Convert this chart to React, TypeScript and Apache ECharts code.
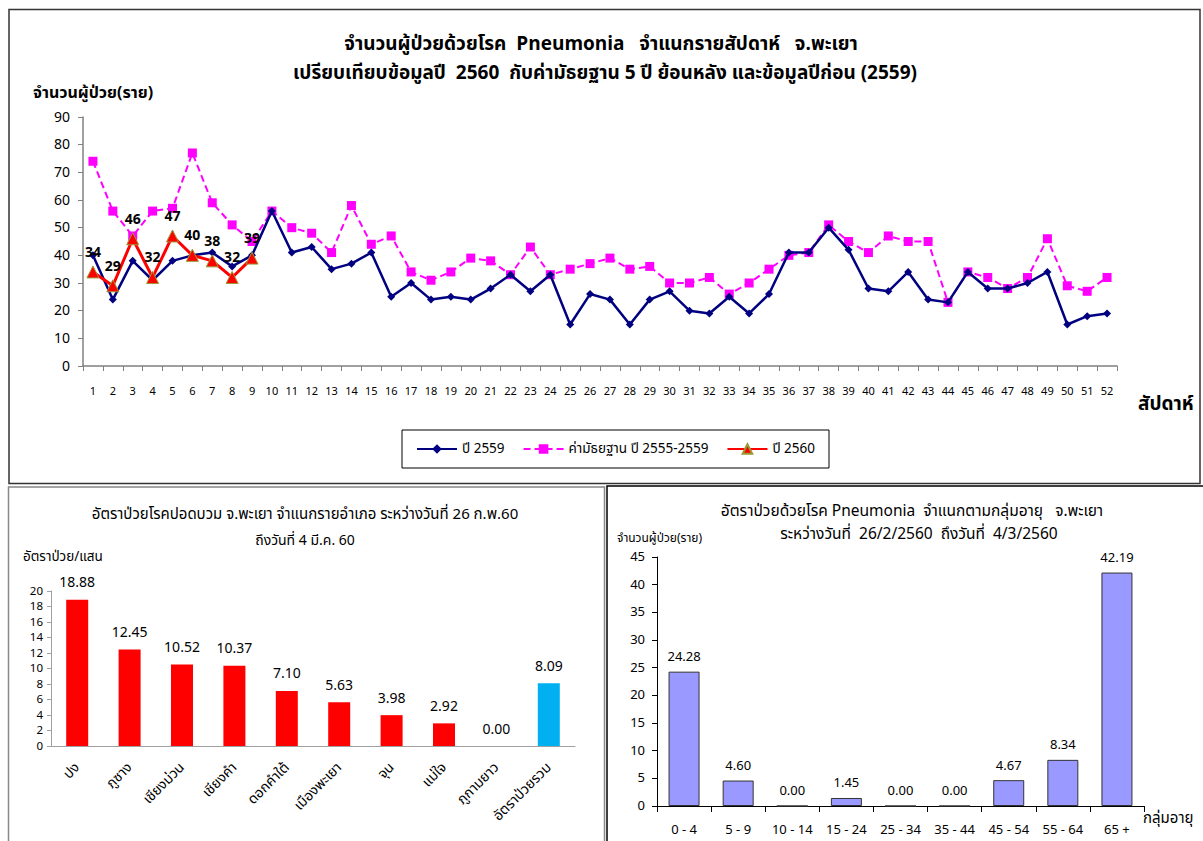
import React, { useEffect, useRef } from "react";
import * as echarts from "echarts";

const weeks = Array.from({ length: 52 }, (_, i) => String(i + 1));
const y2559 = [40, 24, 38, 31, 38, 40, 41, 36, 40, 56, 41, 43, 35, 37, 41, 25, 30, 24, 25, 24, 28, 33, 27, 33, 15, 26, 24, 15, 24, 27, 20, 19, 25, 19, 26, 41, 41, 50, 42, 28, 27, 34, 24, 23, 34, 28, 28, 30, 34, 15, 18, 19];
const median = [74, 56, 47, 56, 57, 77, 59, 51, 45, 56, 50, 48, 41, 58, 44, 47, 34, 31, 34, 39, 38, 33, 43, 33, 35, 37, 39, 35, 36, 30, 30, 32, 26, 30, 35, 40, 41, 51, 45, 41, 47, 45, 45, 23, 34, 32, 28, 32, 46, 29, 27, 32];
const y2560 = [34, 29, 46, 32, 47, 40, 38, 32, 39];

const districts = ["ปง", "ภูซาง", "เชียงม่วน", "เชียงคำ", "ดอกคำใต้", "เมืองพะเยา", "จุน", "แม่ใจ", "ภูกามยาว", "อัตราป่วยรวม"];
const districtRates = [18.88, 12.45, 10.52, 10.37, 7.1, 5.63, 3.98, 2.92, 0.0, 8.09];
const districtColors = ["#FF0000", "#FF0000", "#FF0000", "#FF0000", "#FF0000", "#FF0000", "#FF0000", "#FF0000", "#FF0000", "#00B0F0"];

const ageGroups = ["0 - 4", "5 - 9", "10 - 14", "15 - 24", "25 - 34", "35 - 44", "45 - 54", "55 - 64", "65 +"];
const ageRates = [24.28, 4.6, 0.0, 1.45, 0.0, 0.0, 4.67, 8.34, 42.19];

const FONT = "Tahoma, 'Noto Sans Thai', 'Noto Sans', 'DejaVu Sans', sans-serif";

export default function App() {
  const ref = useRef<HTMLDivElement>(null);
  useEffect(() => {
    if (!ref.current) return;
    const chart = echarts.init(ref.current, null, { renderer: "svg" });
    const txt = (x: number, y: number, text: string, size: number, opts: any = {}) => ({
      type: "text",
      x,
      y,
      style: {
        text,
        fontSize: size,
        fontFamily: FONT,
        fill: "#000",
        align: opts.align || "center",
        verticalAlign: "middle",
        fontWeight: opts.bold ? "bold" : "normal",
      },
    });
    const option: any = {
      animation: false,
      backgroundColor: "#fff",
      textStyle: { fontFamily: FONT },
      graphic: [
        { type: "rect", shape: { x: 9, y: 9.5, width: 1191, height: 474 }, style: { fill: "none", stroke: "#333", lineWidth: 1.5 } },
        { type: "rect", shape: { x: 8.5, y: 487, width: 596, height: 380 }, style: { fill: "none", stroke: "#888", lineWidth: 1.5 } },
        { type: "rect", shape: { x: 607, y: 486, width: 620, height: 380 }, style: { fill: "none", stroke: "#000", lineWidth: 1.5 } },
        txt(601, 44, "จำนวนผู้ป่วยด้วยโรค  Pneumonia   จำแนกรายสัปดาห์   จ.พะเยา", 19, { bold: true }),
        txt(605, 73, "เปรียบเทียบข้อมูลปี  2560  กับค่ามัธยฐาน 5 ปี ย้อนหลัง และข้อมูลปีก่อน (2559)", 19, { bold: true }),
        txt(33, 93, "จำนวนผู้ป่วย(ราย)", 16, { align: "left", bold: true }),
        txt(1138, 404, "สัปดาห์", 19, { align: "left", bold: true }),
        txt(305, 514, "อัตราป่วยโรคปอดบวม จ.พะเยา จำแนกรายอำเภอ ระหว่างวันที่ 26 ก.พ.60", 15),
        txt(305, 540, "ถึงวันที่ 4 มี.ค. 60", 14),
        txt(23, 557, "อัตราป่วย/แสน", 13.5, { align: "left" }),
        txt(912, 511, "อัตราป่วยด้วยโรค Pneumonia  จำแนกตามกลุ่มอายุ   จ.พะเยา", 15.5),
        txt(919, 534, "ระหว่างวันที่  26/2/2560  ถึงวันที่  4/3/2560", 15.5),
        txt(617, 538, "จำนวนผู้ป่วย(ราย)", 12, { align: "left" }),
        txt(1143, 818, "กลุ่มอายุ", 15, { align: "left" }),
      ],
      legend: {
        left: 402,
        top: 430,
        width: 434,
        height: 39,
        padding: [12, 14],
        borderColor: "#000",
        borderWidth: 1,
        itemWidth: 40,
        itemHeight: 12,
        itemGap: 18,
        textStyle: { fontSize: 13.5, color: "#000", fontFamily: FONT },
        data: ["ปี 2559", "ค่ามัธยฐาน ปี 2555-2559", "ปี 2560"],
      },
      grid: [
        { left: 83, top: 117, width: 1034, height: 249 },
        { left: 51, top: 591, width: 524, height: 155 },
        { left: 657, top: 557, width: 487, height: 249 },
      ],
      xAxis: [
        {
          gridIndex: 0,
          type: "category",
          data: weeks,
          boundaryGap: true,
          axisLine: { lineStyle: { color: "#808080", width: 1.5 } },
          axisTick: { show: true, length: 5, lineStyle: { color: "#808080" } },
          axisLabel: { interval: 0, fontSize: 11, margin: 20, color: "#000", fontFamily: FONT },
        },
        {
          gridIndex: 1,
          type: "category",
          data: districts,
          axisLine: { lineStyle: { color: "#a0a0a0" } },
          axisTick: { show: false },
          axisLabel: { interval: 0, rotate: 45, fontSize: 14, margin: 19, color: "#000", fontFamily: FONT },
        },
        {
          gridIndex: 2,
          type: "category",
          data: ageGroups,
          axisLine: { lineStyle: { color: "#000" } },
          axisTick: { show: true, length: 6, lineStyle: { color: "#000" } },
          axisLabel: { interval: 0, fontSize: 13, margin: 17, color: "#000", fontFamily: FONT },
        },
      ],
      yAxis: [
        {
          gridIndex: 0,
          type: "value",
          min: 0,
          max: 90,
          interval: 10,
          axisLine: { show: true, lineStyle: { color: "#808080", width: 1.5 } },
          axisTick: { show: true, length: 5, lineStyle: { color: "#808080" } },
          splitLine: { show: false },
          axisLabel: { fontSize: 14, color: "#000", margin: 13, fontFamily: FONT },
        },
        {
          gridIndex: 1,
          type: "value",
          min: 0,
          max: 20,
          interval: 2,
          axisLine: { show: true, lineStyle: { color: "#a0a0a0" } },
          axisTick: { show: true, length: 4, lineStyle: { color: "#a0a0a0" } },
          splitLine: { show: false },
          axisLabel: { fontSize: 11.5, lineHeight: 12, color: "#000", margin: 8, fontFamily: FONT },
        },
        {
          gridIndex: 2,
          type: "value",
          min: 0,
          max: 45,
          interval: 5,
          axisLine: { show: true, lineStyle: { color: "#000" } },
          axisTick: { show: true, length: 5, lineStyle: { color: "#000" } },
          splitLine: { show: false },
          axisLabel: { fontSize: 13, lineHeight: 14, color: "#000", margin: 12, fontFamily: FONT },
        },
      ],
      series: [
        {
          name: "ปี 2559",
          type: "line",
          xAxisIndex: 0,
          yAxisIndex: 0,
          data: y2559,
          color: "#000080",
          lineStyle: { width: 2.5, color: "#000080" },
          symbol: "diamond",
          symbolSize: 8,
          z: 3,
        },
        {
          name: "ค่ามัธยฐาน ปี 2555-2559",
          type: "line",
          xAxisIndex: 0,
          yAxisIndex: 0,
          data: median,
          color: "#FF00FF",
          lineStyle: { width: 2, color: "#FF00FF", type: [7, 4] },
          symbol: "rect",
          symbolSize: 9,
          z: 2,
        },
        {
          name: "ปี 2560",
          type: "line",
          xAxisIndex: 0,
          yAxisIndex: 0,
          data: y2560,
          color: "#FF0000",
          lineStyle: { width: 3, color: "#FF0000" },
          symbol: "triangle",
          symbolSize: 12,
          itemStyle: { color: "#FF0000", borderColor: "#999933", borderWidth: 1 },
          label: { show: true, position: "top", distance: 6, fontSize: 14, fontWeight: "bold", color: "#000", fontFamily: FONT },
          z: 4,
        },
        {
          type: "bar",
          xAxisIndex: 1,
          yAxisIndex: 1,
          barWidth: 22,
          data: districtRates.map((v, i) => ({ value: v, itemStyle: { color: districtColors[i] } })),
          label: {
            show: true,
            position: "top",
            distance: 10,
            fontSize: 14,
            color: "#000",
            fontFamily: FONT,
            formatter: (p: any) => Number(p.value).toFixed(2),
          },
        },
        {
          type: "bar",
          xAxisIndex: 2,
          yAxisIndex: 2,
          barWidth: 31,
          data: ageRates,
          itemStyle: { color: "#9999FF", borderColor: "#333", borderWidth: 1 },
          label: {
            show: true,
            position: "top",
            distance: 8,
            fontSize: 13,
            color: "#000",
            fontFamily: FONT,
            formatter: (p: any) => Number(p.value).toFixed(2),
          },
        },
      ],
    };
    chart.setOption(option);
    return () => chart.dispose();
  }, []);
  return (
    <div
      ref={ref}
      style={{ position: "absolute", left: 0, top: 0, width: 1203, height: 841, background: "#fff" }}
    />
  );
}
